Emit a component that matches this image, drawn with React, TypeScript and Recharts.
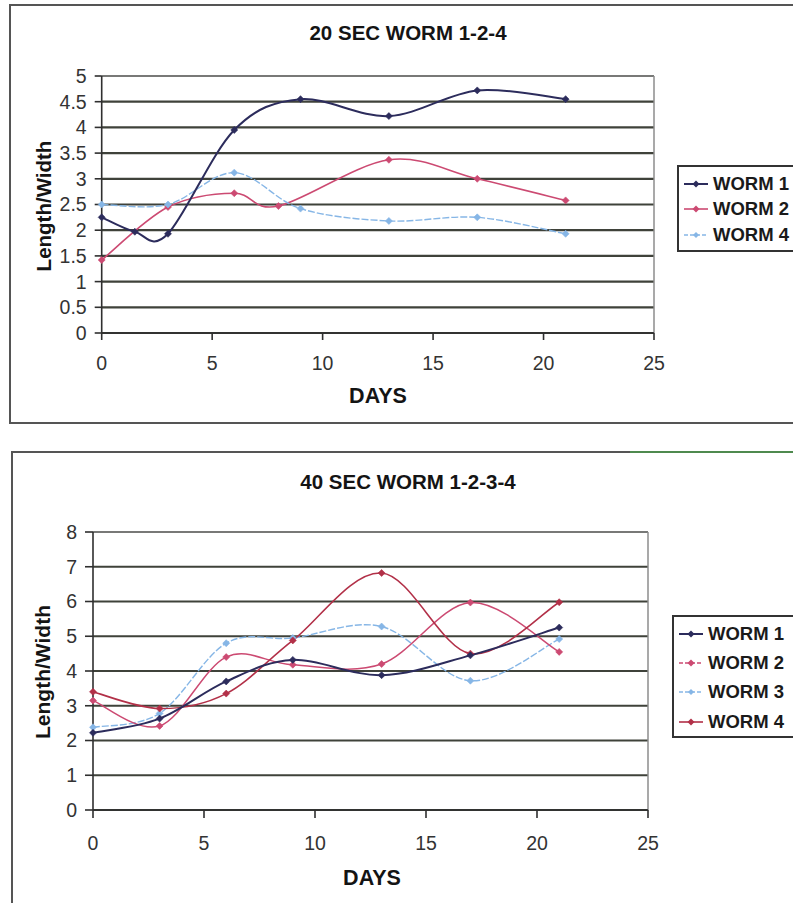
import React from 'react';
import { LineChart, Line, XAxis, YAxis, CartesianGrid, Legend, ReferenceLine } from 'recharts';

const FONT = '"Liberation Sans", Arial, Helvetica, sans-serif';

// ---- 20 SEC exposure ----
const DAYS_20_W1 = [0, 1.5, 3, 6, 9, 13, 17, 21];
const LW_20_W1 = [2.25, 1.97, 1.93, 3.95, 4.55, 4.22, 4.72, 4.55];
const DAYS_20_W2 = [0, 3, 6, 8, 13, 17, 21];
const LW_20_W2 = [1.42, 2.45, 2.72, 2.47, 3.37, 3.0, 2.58];
const DAYS_20_W4 = [0, 3, 6, 9, 13, 17, 21];
const LW_20_W4 = [2.5, 2.5, 3.12, 2.42, 2.18, 2.25, 1.93];
const Y_TICKS_20 = [0, 0.5, 1, 1.5, 2, 2.5, 3, 3.5, 4, 4.5, 5];

// ---- 40 SEC exposure ----
const DAYS_40 = [0, 3, 6, 9, 13, 17, 21];
const LW_40_W1 = [2.22, 2.63, 3.7, 4.32, 3.88, 4.45, 5.25];
const LW_40_W2 = [3.15, 2.42, 4.4, 4.18, 4.2, 5.97, 4.55];
const LW_40_W3 = [2.38, 2.78, 4.8, 4.95, 5.28, 3.72, 4.92];
const LW_40_W4 = [3.4, 2.92, 3.35, 4.88, 6.82, 4.5, 5.98];
const Y_TICKS_40 = [0, 1, 2, 3, 4, 5, 6, 7, 8];

const X_TICKS = [0, 5, 10, 15, 20, 25];

const NAVY = '#2c2c5c';
const PINK = '#cc4a72';
const SKY = '#86b6e6';
const MAROON = '#b23048';

const pts = (days: number[], vals: number[]) => days.map((d, i) => ({ day: d, lw: vals[i] }));

// Smoothed line: cubic Bezier segments with Catmull-Rom style tangents.
function smoothCurve(context: any) {
  let p: number[][] = [];
  return {
    areaStart() {},
    areaEnd() {},
    lineStart() {
      p = [];
    },
    point(x: number, y: number) {
      p.push([+x, +y]);
    },
    lineEnd() {
      const n = p.length;
      if (!n) return;
      context.moveTo(p[0][0], p[0][1]);
      if (n === 1) return;
      for (let i = 0; i < n - 1; i++) {
        const a = p[Math.max(i - 1, 0)];
        const b = p[i];
        const c = p[i + 1];
        const d = p[Math.min(i + 2, n - 1)];
        context.bezierCurveTo(
          b[0] + (c[0] - a[0]) / 6,
          b[1] + (c[1] - a[1]) / 6,
          c[0] - (d[0] - b[0]) / 6,
          c[1] - (d[1] - b[1]) / 6,
          c[0],
          c[1]
        );
      }
    },
  };
}

const diamond = (color: string, s: number) => (props: any) => {
  const { cx, cy, index } = props;
  if (cx == null || cy == null) return <g key={`d${index}`} />;
  return (
    <path
      key={`d${index}`}
      d={`M${cx},${cy - s}L${cx + s},${cy}L${cx},${cy + s}L${cx - s},${cy}Z`}
      fill={color}
      stroke={color}
      strokeWidth={0.6}
    />
  );
};

type Entry = { name: string; color: string; width: number; dash?: string; size: number };

const legendBox = (entries: Entry[], rowH: number, padTop: number) => () =>
  (
    <div
      style={{
        width: 160,
        border: '2px solid #333',
        background: '#fff',
        paddingTop: padTop,
        paddingBottom: padTop - 2,
        boxSizing: 'border-box',
      }}
    >
      {entries.map((e) => (
        <div key={e.name} style={{ height: rowH, display: 'flex', alignItems: 'center' }}>
          <svg width={30} height={12} style={{ marginLeft: 3 }}>
            <line x1={2} y1={6} x2={26} y2={6} stroke={e.color} strokeWidth={e.width} strokeDasharray={e.dash} />
            <path d={`M14,${6 - e.size}L${14 + e.size},6L14,${6 + e.size}L${14 - e.size},6Z`} fill={e.color} />
          </svg>
          <span style={{ fontFamily: FONT, fontWeight: 'bold', fontSize: 18.5, color: '#1a1a1a', marginLeft: 1 }}>
            {e.name}
          </span>
        </div>
      ))}
    </div>
  );

const tickStyle = { fill: '#333', fontSize: 19.5, fontFamily: FONT };
const axisStroke = { stroke: '#2f2f2f', strokeWidth: 1.6 };

const textAbs = (
  text: string,
  left: number,
  top: number,
  size: number,
  rotate = false
): React.ReactElement => (
  <div
    style={{
      position: 'absolute',
      left,
      top,
      transform: `translate(-50%, -50%)${rotate ? ' rotate(-90deg)' : ''}`,
      fontFamily: FONT,
      fontWeight: 'bold',
      fontSize: size,
      color: '#141414',
      whiteSpace: 'nowrap',
      lineHeight: 1,
    }}
  >
    {text}
  </div>
);

function Chart20() {
  const entries: Entry[] = [
    { name: 'WORM 1', color: NAVY, width: 2, size: 3.5 },
    { name: 'WORM 2', color: PINK, width: 1.6, size: 3.5 },
    { name: 'WORM 4', color: SKY, width: 1.4, dash: '4 2', size: 3 },
  ];
  return (
    <div style={{ position: 'absolute', left: 10, top: 5, width: 840, height: 418 }}>
      <LineChart width={840} height={418} margin={{ top: 71, right: 196, bottom: 50, left: 0 }}>
        <CartesianGrid vertical={false} stroke="#3f423a" strokeWidth={2.2} />
        <ReferenceLine y={5} stroke="#8c8c8c" strokeWidth={1.5} />
        <ReferenceLine x={25} stroke="#8c8c8c" strokeWidth={1.5} />
        <XAxis
          type="number"
          dataKey="day"
          domain={[0, 25]}
          ticks={X_TICKS}
          interval={0}
          height={40}
          tick={tickStyle}
          tickSize={7}
          tickMargin={16}
          axisLine={axisStroke}
          tickLine={axisStroke}
        />
        <YAxis
          type="number"
          domain={[0, 5]}
          ticks={Y_TICKS_20}
          interval={0}
          width={91.7}
          tick={tickStyle}
          tickSize={7}
          tickMargin={8}
          axisLine={axisStroke}
          tickLine={axisStroke}
        />
        <Legend
          layout="vertical"
          align="center"
          verticalAlign="middle"
          wrapperStyle={{ left: 667, top: 160, width: 160 }}
          content={legendBox(entries, 25.5, 4)}
        />
        <Line
          data={pts(DAYS_20_W2, LW_20_W2)}
          dataKey="lw"
          name="WORM 2"
          type={smoothCurve as any}
          stroke={PINK}
          strokeWidth={1.6}
          dot={diamond(PINK, 3.5)}
          isAnimationActive={false}
        />
        <Line
          data={pts(DAYS_20_W4, LW_20_W4)}
          dataKey="lw"
          name="WORM 4"
          type={smoothCurve as any}
          stroke={SKY}
          strokeWidth={1.4}
          strokeDasharray="7 2"
          dot={diamond(SKY, 3.5)}
          isAnimationActive={false}
        />
        <Line
          data={pts(DAYS_20_W1, LW_20_W1)}
          dataKey="lw"
          name="WORM 1"
          type={smoothCurve as any}
          stroke={NAVY}
          strokeWidth={2}
          dot={diamond(NAVY, 3.5)}
          isAnimationActive={false}
        />
      </LineChart>
      {textAbs('20 SEC WORM 1-2-4', 398, 28, 20.5)}
      {textAbs('Length/Width', 34, 201, 20.5, true)}
      {textAbs('DAYS', 368, 392, 21.5)}
    </div>
  );
}

function Chart40() {
  const entries: Entry[] = [
    { name: 'WORM 1', color: NAVY, width: 2, size: 3.5 },
    { name: 'WORM 2', color: PINK, width: 1.5, dash: '4 2', size: 3.5 },
    { name: 'WORM 3', color: SKY, width: 1.4, dash: '4 2', size: 3 },
    { name: 'WORM 4', color: MAROON, width: 1.6, size: 3.5 },
  ];
  return (
    <div style={{ position: 'absolute', left: 12, top: 452, width: 840, height: 460 }}>
      <LineChart width={840} height={460} margin={{ top: 80, right: 204, bottom: 62, left: 0 }}>
        <CartesianGrid vertical={false} stroke="#3f423a" strokeWidth={2.2} />
        <ReferenceLine y={8} stroke="#8c8c8c" strokeWidth={1.5} />
        <ReferenceLine x={25} stroke="#8c8c8c" strokeWidth={1.5} />
        <XAxis
          type="number"
          dataKey="day"
          domain={[0, 25]}
          ticks={X_TICKS}
          interval={0}
          height={40}
          tick={tickStyle}
          tickSize={8}
          tickMargin={18}
          axisLine={axisStroke}
          tickLine={axisStroke}
        />
        <YAxis
          type="number"
          domain={[0, 8]}
          ticks={Y_TICKS_40}
          interval={0}
          width={81}
          tick={tickStyle}
          tickSize={8}
          tickMargin={8}
          axisLine={axisStroke}
          tickLine={axisStroke}
        />
        <Legend
          layout="vertical"
          align="center"
          verticalAlign="middle"
          wrapperStyle={{ left: 660, top: 163, width: 160 }}
          content={legendBox(entries, 29.3, 2)}
        />
        <Line
          data={pts(DAYS_40, LW_40_W3)}
          dataKey="lw"
          name="WORM 3"
          type={smoothCurve as any}
          stroke={SKY}
          strokeWidth={1.4}
          strokeDasharray="7 2"
          dot={diamond(SKY, 3.5)}
          isAnimationActive={false}
        />
        <Line
          data={pts(DAYS_40, LW_40_W2)}
          dataKey="lw"
          name="WORM 2"
          type={smoothCurve as any}
          stroke={PINK}
          strokeWidth={1.5}
          dot={diamond(PINK, 3.5)}
          isAnimationActive={false}
        />
        <Line
          data={pts(DAYS_40, LW_40_W4)}
          dataKey="lw"
          name="WORM 4"
          type={smoothCurve as any}
          stroke={MAROON}
          strokeWidth={1.6}
          dot={diamond(MAROON, 3.5)}
          isAnimationActive={false}
        />
        <Line
          data={pts(DAYS_40, LW_40_W1)}
          dataKey="lw"
          name="WORM 1"
          type={smoothCurve as any}
          stroke={NAVY}
          strokeWidth={2}
          dot={diamond(NAVY, 3.5)}
          isAnimationActive={false}
        />
      </LineChart>
      {textAbs('40 SEC WORM 1-2-3-4', 396, 30, 20.5)}
      {textAbs('Length/Width', 30, 220, 21, true)}
      {textAbs('DAYS', 360, 427, 21.5)}
    </div>
  );
}

export default function App() {
  return (
    <div
      style={{
        position: 'absolute',
        left: 0,
        top: 0,
        width: 793,
        height: 903,
        overflow: 'hidden',
        background: '#fff',
      }}
    >
      <div
        style={{
          position: 'absolute',
          left: 9,
          top: 4,
          width: 900,
          height: 420,
          border: '2px solid #555',
          boxSizing: 'border-box',
        }}
      />
      <div
        style={{
          position: 'absolute',
          left: 11,
          top: 451,
          width: 900,
          height: 480,
          border: '2px solid #555',
          boxSizing: 'border-box',
        }}
      />
      <div style={{ position: 'absolute', left: 630, top: 451, width: 200, height: 2, background: '#4f8a4f' }} />
      <Chart20 />
      <Chart40 />
    </div>
  );
}
